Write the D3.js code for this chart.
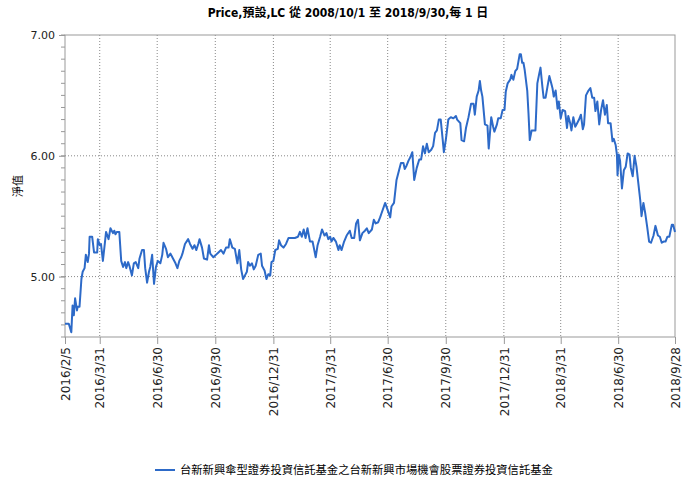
<!DOCTYPE html>
<html>
<head>
<meta charset="utf-8">
<script src="https://cdn.jsdelivr.net/npm/d3@7"></script>
<style>
  body { margin: 0; background: #fff; }
  svg { display: block; }
  .title { font-family: "DejaVu Sans Condensed", "DejaVu Sans", "Noto Sans CJK TC", sans-serif; font-weight: bold; font-size: 12px; }
  .axis text { font-family: "DejaVu Sans", "Noto Sans CJK TC", sans-serif; font-size: 11px; fill: #222; }
  .xaxis text { font-size: 12px; }
  .grid line { stroke: #888; stroke-dasharray: 1,2; }
</style>
</head>
<body>
<div id="chart"></div>
<script>
var width = 695, height = 483;
var margin = {top: 35, right: 20, bottom: 146, left: 65};

var titleText = "Price,預設,LC 從 2008/10/1 至 2018/9/30,每 1 日";
var yTitle = "淨值";
var seriesName = "台新新興傘型證券投資信託基金之台新新興市場機會股票證券投資信託基金";

// first and last day shown, x ticks as the chart labels them
var startDay = "2016/2/5", endDay = "2018/9/28";
var xTickLabels = ["2016/2/5", "2016/3/31", "2016/6/30", "2016/9/30", "2016/12/31", "2017/3/31",
  "2017/6/30", "2017/9/30", "2017/12/31", "2018/3/31", "2018/6/30", "2018/9/28"];
var yTicks = [5, 6, 7];

// days after 2016/2/5
var dayOffsets = [0, 6, 10, 12, 14, 16, 19, 20, 23, 26, 28, 31, 33, 36, 38, 39, 43, 46, 51, 52,
  55, 57, 60, 63, 65, 69, 72, 76, 78, 80, 82, 86, 89, 92, 95, 97, 100, 102, 106, 109,
  112, 116, 118, 122, 125, 127, 130, 133, 135, 138, 141, 144, 147, 151, 154, 156, 160, 163, 167, 171,
  175, 178, 181, 184, 186, 190, 195, 198, 202, 205, 208, 211, 213, 217, 220, 225, 228, 230, 235, 239,
  243, 247, 251, 255, 259, 261, 265, 269, 273, 276, 279, 282, 285, 288, 290, 293, 296, 299, 302, 306,
  310, 312, 316, 319, 322, 325, 327, 330, 333, 337, 339, 342, 346, 350, 354, 359, 364, 369, 372, 375,
  378, 381, 384, 388, 392, 394, 397, 400, 404, 407, 411, 414, 417, 420, 422, 425, 429, 433, 435, 438,
  442, 446, 451, 454, 458, 461, 464, 467, 471, 475, 478, 481, 486, 489, 492, 496, 499, 501, 507, 511,
  515, 517, 521, 525, 529, 532, 536, 538, 541, 544, 547, 550, 553, 557, 561, 564, 567, 570, 573, 576,
  580, 583, 586, 589, 592, 595, 598, 600, 603, 607, 611, 615, 619, 621, 626, 628, 632, 635, 639, 643,
  647, 649, 652, 655, 657, 659, 661, 665, 669, 671, 675, 678, 680, 684, 686, 690, 693, 696, 698, 701,
  705, 707, 710, 713, 716, 718, 720, 722, 724, 726, 728, 732, 734, 736, 739, 745, 748, 751, 753, 756,
  758, 761, 764, 767, 770, 772, 774, 777, 780, 782, 785, 788, 792, 795, 797, 800, 802, 805, 808, 811,
  814, 817, 820, 822, 825, 829, 832, 835, 838, 840, 843, 846, 849, 852, 855, 858, 860, 864, 867, 869,
  872, 874, 875, 877, 879, 882, 885, 888, 891, 894, 896, 899, 902, 905, 908, 911, 913, 916, 919, 922,
  925, 928, 932, 935, 939, 942, 945, 948, 951, 954, 957, 961, 963, 966];

var navValues = [4.61, 4.61, 4.54, 4.76, 4.68, 4.82, 4.72, 4.75, 4.75, 4.98, 5.04, 5.07, 5.18, 5.12, 5.19, 5.33, 5.33, 5.20, 5.20, 5.31,
  5.26, 5.27, 5.13, 5.27, 5.37, 5.31, 5.40, 5.36, 5.38, 5.35, 5.37, 5.37, 5.13, 5.08, 5.12, 5.07, 5.12, 5.09, 5.01, 5.11,
  5.12, 5.07, 5.15, 5.22, 5.22, 5.07, 4.95, 5.04, 5.08, 5.18, 4.94, 5.08, 5.13, 5.11, 5.18, 5.28, 5.23, 5.16, 5.19, 5.15,
  5.11, 5.07, 5.13, 5.16, 5.19, 5.27, 5.31, 5.27, 5.23, 5.26, 5.22, 5.27, 5.31, 5.24, 5.15, 5.14, 5.26, 5.19, 5.16, 5.18,
  5.20, 5.22, 5.19, 5.24, 5.24, 5.31, 5.24, 5.23, 5.11, 5.22, 5.06, 4.98, 5.01, 5.04, 5.12, 5.09, 5.11, 5.06, 5.09, 5.18,
  5.19, 5.09, 5.05, 4.98, 5.02, 5.01, 5.12, 5.13, 5.22, 5.23, 5.30, 5.26, 5.24, 5.27, 5.32, 5.32, 5.32, 5.33, 5.37, 5.33,
  5.39, 5.32, 5.40, 5.29, 5.29, 5.24, 5.16, 5.26, 5.33, 5.39, 5.34, 5.36, 5.31, 5.33, 5.29, 5.32, 5.29, 5.22, 5.26, 5.22,
  5.29, 5.34, 5.38, 5.32, 5.32, 5.44, 5.47, 5.30, 5.36, 5.38, 5.40, 5.36, 5.39, 5.47, 5.44, 5.45, 5.49, 5.52, 5.61, 5.55,
  5.49, 5.58, 5.61, 5.80, 5.88, 5.94, 5.94, 5.89, 5.92, 5.96, 5.99, 6.03, 5.80, 5.90, 5.97, 5.97, 6.08, 6.02, 6.10, 6.03,
  6.05, 6.08, 6.19, 6.21, 6.30, 6.30, 6.14, 6.03, 6.13, 6.30, 6.32, 6.31, 6.33, 6.30, 6.27, 6.13, 6.12, 6.23, 6.32, 6.43,
  6.43, 6.34, 6.49, 6.54, 6.62, 6.54, 6.49, 6.26, 6.25, 6.06, 6.32, 6.24, 6.20, 6.26, 6.31, 6.31, 6.38, 6.38, 6.53, 6.60,
  6.63, 6.67, 6.63, 6.70, 6.72, 6.78, 6.84, 6.84, 6.77, 6.77, 6.71, 6.54, 6.35, 6.13, 6.21, 6.21, 6.60, 6.68, 6.73, 6.57,
  6.48, 6.48, 6.57, 6.66, 6.60, 6.56, 6.49, 6.54, 6.39, 6.45, 6.31, 6.38, 6.37, 6.23, 6.33, 6.27, 6.21, 6.32, 6.24, 6.27,
  6.30, 6.34, 6.22, 6.26, 6.50, 6.54, 6.56, 6.48, 6.48, 6.37, 6.45, 6.26, 6.38, 6.46, 6.34, 6.42, 6.27, 6.27, 6.12, 6.14,
  6.09, 6.01, 5.84, 6.01, 5.96, 5.73, 5.88, 5.91, 6.02, 6.01, 5.90, 5.83, 6.00, 5.91, 5.77, 5.63, 5.50, 5.61, 5.52, 5.41,
  5.29, 5.28, 5.34, 5.42, 5.34, 5.33, 5.28, 5.29, 5.29, 5.33, 5.33, 5.43, 5.43, 5.37];

var parseDay = d3.timeParse("%Y/%m/%d");
var start = parseDay(startDay), end = parseDay(endDay);
var data = dayOffsets.map(function(d, i) {
  return {date: d3.timeDay.offset(start, d), value: navValues[i]};
});

var svg = d3.select("#chart").append("svg")
    .attr("width", width)
    .attr("height", height);

var innerW = width - margin.left - margin.right,
    innerH = height - margin.top - margin.bottom;

var x = d3.scaleTime().domain([start, end]).range([0, innerW]);
var y = d3.scaleLinear().domain([4.5, 7]).range([innerH, 0]);

var g = svg.append("g").attr("transform", "translate(" + margin.left + "," + margin.top + ")");

// grid
g.append("g").attr("class", "grid")
  .selectAll("line").data(yTicks.slice(0, 2)).enter().append("line")
    .attr("x1", 0).attr("x2", innerW)
    .attr("y1", function(d) { return y(d); }).attr("y2", function(d) { return y(d); });
g.append("g").attr("class", "grid")
  .selectAll("line").data(xTickLabels.slice(1, -1)).enter().append("line")
    .attr("y1", 0).attr("y2", innerH)
    .attr("x1", function(d) { return x(parseDay(d)); }).attr("x2", function(d) { return x(parseDay(d)); });

// minor y ticks
g.append("g")
  .selectAll("line").data(d3.range(45, 71).map(function(d) { return d / 10; })).enter().append("line")
    .attr("x1", -4).attr("x2", 0)
    .attr("y1", function(d) { return y(d); }).attr("y2", function(d) { return y(d); })
    .attr("stroke", "#999");

var yAxis = d3.axisLeft(y).tickValues(yTicks).tickFormat(d3.format(".2f")).tickSize(6).tickPadding(4);
var yG = g.append("g").attr("class", "axis").call(yAxis);
yG.select(".domain").remove();
yG.selectAll("line").attr("stroke", "#999");

var xAxis = d3.axisBottom(x)
    .tickValues(xTickLabels.map(parseDay))
    .tickFormat(function(d, i) { return xTickLabels[i]; })
    .tickSize(7);
var xG = g.append("g").attr("class", "axis xaxis")
    .attr("transform", "translate(0," + innerH + ")")
    .call(xAxis);
xG.select(".domain").remove();
xG.selectAll("line").attr("stroke", "#999");
xG.selectAll("text")
    .attr("transform", "rotate(-90)")
    .attr("text-anchor", "end")
    .attr("x", -10).attr("y", 0).attr("dy", "0.35em");

// frame
g.append("rect")
    .attr("width", innerW).attr("height", innerH)
    .attr("fill", "none").attr("stroke", "#999");

var line = d3.line()
    .x(function(d) { return x(d.date); })
    .y(function(d) { return y(d.value); });

g.append("path")
    .datum(data)
    .attr("d", line)
    .attr("fill", "none")
    .attr("stroke", "#2d6ac8")
    .attr("stroke-width", 2)
    .attr("stroke-linejoin", "round");

svg.append("text").attr("class", "title")
    .attr("x", 348).attr("y", 17)
    .attr("text-anchor", "middle")
    .text(titleText);

svg.append("text")
    .attr("transform", "translate(18," + (margin.top + innerH / 2) + ") rotate(-90)")
    .attr("text-anchor", "middle")
    .attr("dy", "0.35em")
    .style("font-family", "'Noto Sans CJK TC', sans-serif")
    .style("font-size", "11px")
    .text(yTitle);

// legend
var lg = svg.append("g").attr("transform", "translate(155,470)");
lg.append("line").attr("x1", 0).attr("x2", 20).attr("stroke", "#2d6ac8").attr("stroke-width", 2);
lg.append("text").attr("x", 25).attr("dy", "0.35em")
    .style("font-family", "'Noto Sans CJK TC', sans-serif")
    .style("font-size", "11.3px")
    .text(seriesName);
</script>
</body>
</html>
